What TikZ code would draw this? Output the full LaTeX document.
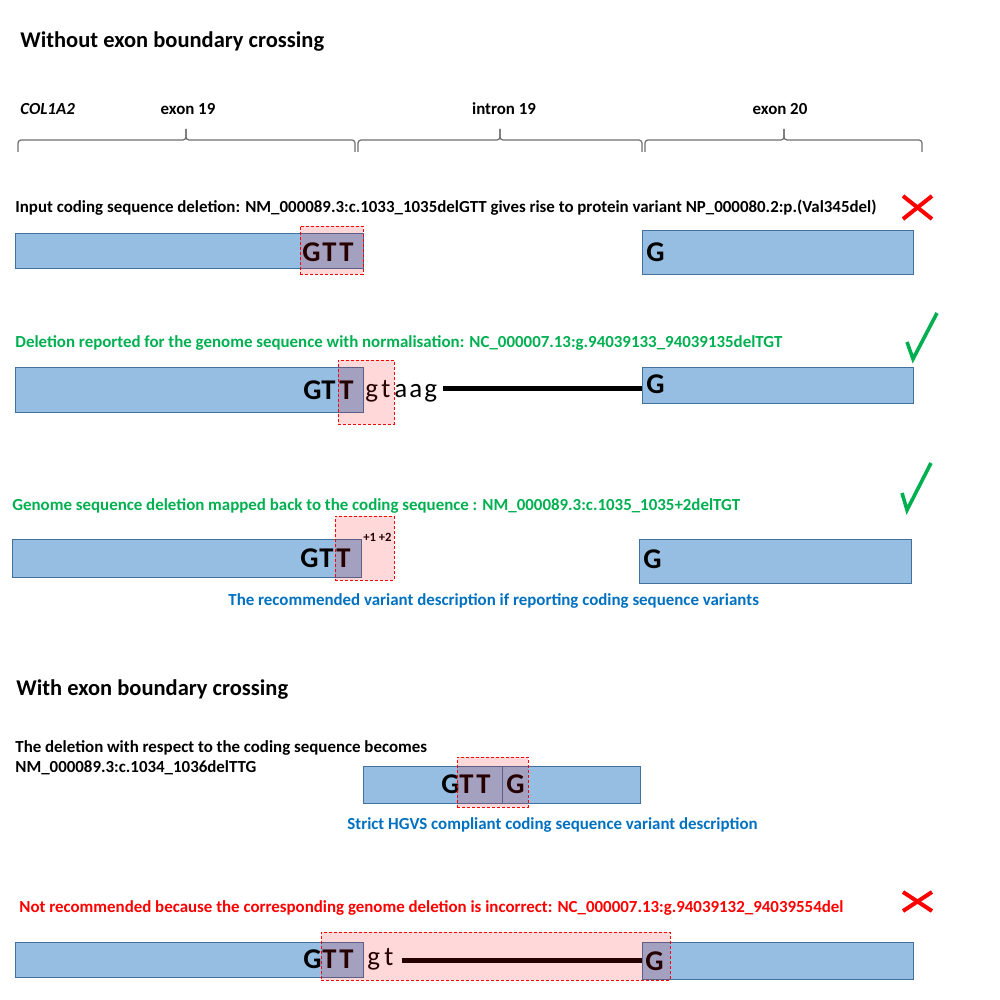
\documentclass[tikz,border=0pt]{standalone}
\usepackage{fontspec}
\setmainfont{Carlito}
\usetikzlibrary{fit}
\definecolor{boxblue}{RGB}{149,190,226}
\definecolor{boxline}{RGB}{65,113,156}
\definecolor{okgreen}{RGB}{0,176,80}
\definecolor{noteblue}{RGB}{0,112,192}
\definecolor{bracegray}{RGB}{110,110,110}
\begin{document}
\begin{tikzpicture}[x=0.5pt,y=-0.5pt,
 lbl/.style={inner sep=0, anchor=base west, font=\bfseries\fontsize{8.45}{10}\selectfont},
 clbl/.style={lbl, anchor=base},
 ttl/.style={inner sep=0, anchor=base west, font=\bfseries\fontsize{11.25}{13}\selectfont},
 bigletter/.style={inner sep=0, anchor=base west, font=\bfseries\fontsize{14.3}{16}\selectfont},
 smallletter/.style={inner sep=0, anchor=base west, font=\fontsize{13.5}{16}\selectfont},
 pluslbl/.style={inner sep=0, anchor=base west, font=\bfseries\fontsize{6.3}{7}\selectfont},
 exonbox/.style={draw=boxline, fill=boxblue, line width=0.5pt, inner sep=0},
 delbox/.style={draw=red, fill=red, fill opacity=0.15, dashed, dash pattern=on 1.5pt off 1pt, line width=0.4pt, inner sep=0},
 brc/.style={draw=bracegray, line width=0.6pt, rounded corners=1.5pt},
 intronline/.style={line width=2.5pt},
 tick/.style={draw=okgreen, line width=1.8pt},
 cross/.style={draw=red, line width=2pt}]
\useasboundingbox (0,0) rectangle (1000,1000);

% ---------- section 1 ----------
\node[ttl] (t1) at (20,48) {Without exon boundary crossing};
\node[lbl] (gene) at (20,115) {\itshape COL1A2};
\node[clbl] (ex19) at (188,115) {exon 19};
\node[clbl] (in19) at (504,115) {intron 19};
\node[clbl] (ex20) at (780,115) {exon 20};

\draw[brc] (18,152) -- (18,140) -- (186,140) -- (186,129);
\draw[brc] (186,129) -- (186,140) -- (355,140) -- (355,152);
\draw[brc] (358,152) -- (358,140) -- (500,140) -- (500,129);
\draw[brc] (500,129) -- (500,140) -- (642,140) -- (642,152);
\draw[brc] (645,152) -- (645,140) -- (784,140) -- (784,129);
\draw[brc] (784,129) -- (784,140) -- (922,140) -- (922,152);

% row 1
\node[lbl] (r1txt) at (15,213) {Input coding sequence deletion: NM\_000089.3:c.1033\_1035delGTT gives rise to protein variant NP\_000080.2:p.(Val345del)};
\draw[cross] (903,196) -- (932,219);
\draw[cross] (903,219) -- (932,196);
\node[exonbox, fit={(15,234) (363,268)}] (r1l) {};
\node[exonbox, fit={(642,231) (913,274)}] (r1r) {};
\node[bigletter] (r1g) at (302,261) {G};
\node[bigletter] (r1t1) at (322,261) {T};
\node[bigletter] (r1t2) at (339,261) {T};
\node[bigletter] (r1rg) at (646,261) {G};
\node[delbox, fit={(300,226) (363,274)}] (r1d) {};

% row 2
\node[lbl, text=okgreen] (r2txt) at (15,347) {Deletion reported for the genome sequence with normalisation: NC\_000007.13:g.94039133\_94039135delTGT};
\draw[tick] (907,342) -- (913,359) -- (937,313);
\node[exonbox, fit={(15,367) (363,412)}] (r2l) {};
\node[exonbox, fit={(642,367) (913,403)}] (r2r) {};
\node[bigletter] (r2g) at (303,399) {G};
\node[bigletter] (r2t1) at (321,399) {T};
\node[bigletter] (r2t2) at (339,399) {T};
\node[smallletter] (r2s1) at (365,397) {g};
\node[smallletter] (r2s2) at (381,397) {t};
\node[smallletter] (r2s3) at (394,397) {a};
\node[smallletter] (r2s4) at (409,397) {a};
\node[smallletter] (r2s5) at (424,397) {g};
\coordinate (r2a) at (443,388);
\coordinate (r2b) at (642,388);
\draw[intronline] (r2a) -- (r2b);
\node[bigletter] (r2rg) at (646,393) {G};
\node[delbox, fit={(338,360) (394,424)}] (r2d) {};

% row 3
\node[lbl, text=okgreen] (r3txt) at (12,510) {Genome sequence deletion mapped back to the coding sequence : NM\_000089.3:c.1035\_1035+2delTGT};
\draw[tick] (902,493) -- (907,510) -- (931,463);
\node[exonbox, fit={(12,539) (361,577)}] (r3l) {};
\node[exonbox, fit={(639,539) (911,583)}] (r3r) {};
\node[bigletter] (r3g) at (300,567) {G};
\node[bigletter] (r3t1) at (319,567) {T};
\node[bigletter] (r3t2) at (336,567) {T};
\node[pluslbl] (r3p) at (363,541) {+1 +2};
\node[bigletter] (r3rg) at (643,568) {G};
\node[delbox, fit={(335,516) (394,580)}] (r3d) {};
\node[lbl, text=noteblue] (r3note) at (228,605) {The recommended variant description if reporting coding sequence variants};

% ---------- section 2 ----------
\node[ttl] (t2) at (16,695) {With exon boundary crossing};
\node[lbl] (r4a) at (15,752) {The deletion with respect to the coding sequence becomes};
\node[lbl] (r4b) at (15,772) {NM\_000089.3:c.1034\_1036delTTG};
\node[exonbox, fit={(363,766) (640,803)}] (r4box) {};
\coordinate (r4d1) at (502,766);
\coordinate (r4d2) at (502,803);
\draw[boxline, line width=0.5pt] (r4d1) -- (r4d2);
\node[bigletter] (r4g) at (441,793) {G};
\node[bigletter] (r4t1) at (459,793) {T};
\node[bigletter] (r4t2) at (476,793) {T};
\node[bigletter] (r4g2) at (506,793) {G};
\node[delbox, fit={(457,757) (528,807)}] (r4d) {};
\node[lbl, text=noteblue] (r4note) at (347,829) {Strict HGVS compliant coding sequence variant description};

% row 5
\node[lbl, text=red] (r5txt) at (19,912) {Not recommended because the corresponding genome deletion is incorrect: NC\_000007.13:g.94039132\_94039554del};
\draw[cross] (903,892) -- (932,911);
\draw[cross] (903,911) -- (932,892);
\node[exonbox, fit={(15,942) (363,977)}] (r5l) {};
\node[exonbox, fit={(642,942) (913,979)}] (r5r) {};
\node[bigletter] (r5g) at (303,968) {G};
\node[bigletter] (r5t1) at (322,968) {T};
\node[bigletter] (r5t2) at (339,968) {T};
\node[smallletter] (r5s1) at (367,965) {g};
\node[smallletter] (r5s2) at (384,965) {t};
\coordinate (r5a) at (402,960);
\coordinate (r5b) at (642,960);
\draw[intronline] (r5a) -- (r5b);
\node[bigletter] (r5rg) at (645,970) {G};
\node[delbox, fit={(321,932) (670,980)}] (r5d) {};
\end{tikzpicture}
\end{document}
